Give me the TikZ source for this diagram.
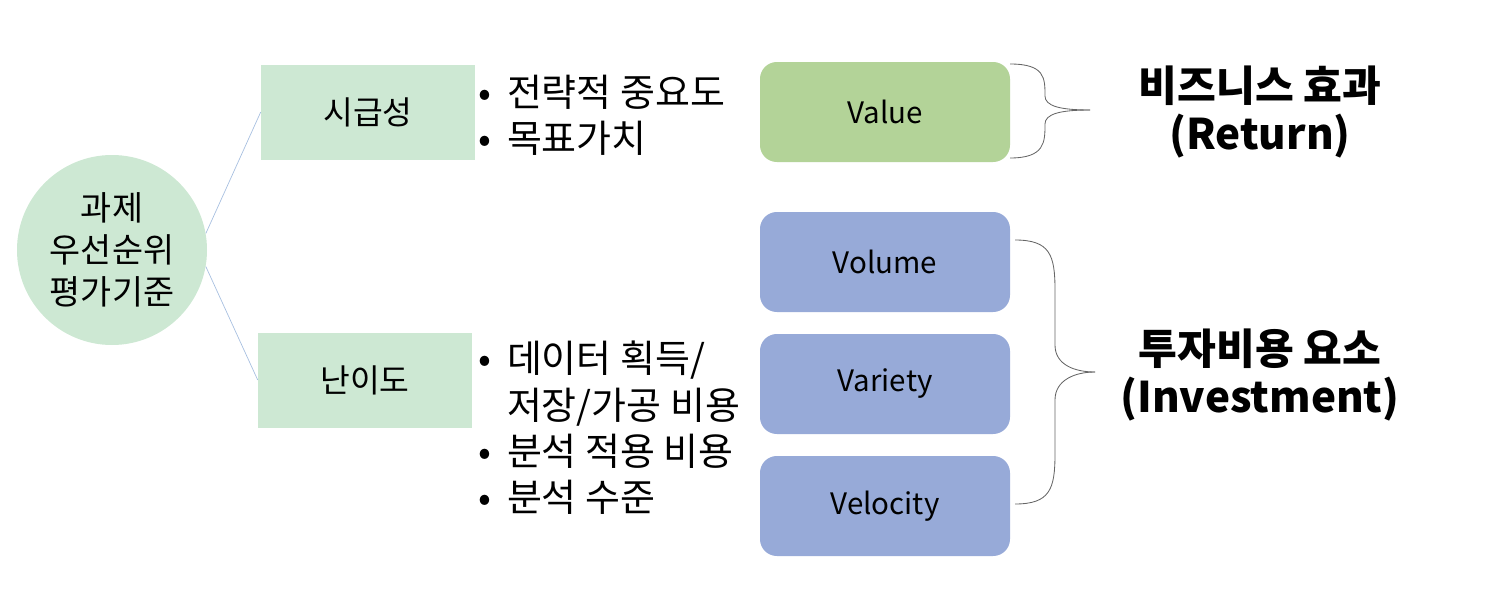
\documentclass[tikz,border=0pt]{standalone}
\usepackage{fontspec}
\setmainfont{Noto Sans CJK KR}
\newcommand{\bul}{•\hspace{0.4em}}
\begin{document}
\begin{tikzpicture}[x=0.025cm,y=-0.025cm,
  gbox/.style={draw=none,fill=lgreen,minimum width=214*0.025cm,minimum height=95*0.025cm,font=\fontsize{23}{26}\selectfont},
  rbox/.style={rounded corners=12pt,minimum width=250*0.025cm,minimum height=100*0.025cm,font=\fontsize{21}{24}\selectfont},
  btxt/.style={anchor=west,align=left,font=\fontsize{27}{33}\selectfont},
  ttl/.style={align=center,font=\bfseries\fontsize{30}{34}\selectfont},
  brc/.style={draw=black!60,line width=0.6pt}]
\definecolor{lgreen}{HTML}{CDE8D3}
\definecolor{vgreen}{HTML}{B3D398}
\definecolor{vblue}{HTML}{97AAD8}
\definecolor{lnblue}{HTML}{A8C0E0}
\useasboundingbox (0,0) rectangle (1500,612);
\node[circle,fill=lgreen,minimum size=190*0.025cm,align=center,font=\fontsize{24}{30}\selectfont] (c) at (112,250) {과제\\우선순위\\평가기준};
\node[gbox] (a) at (368,112) {시급성};
\node[gbox] (b) at (365,380) {난이도};
\draw[lnblue,line width=0.5pt] (c.10) -- (a.west);
\draw[lnblue,line width=0.5pt] (c.-10) -- (b.west);
\node[btxt] (t1) at (474,115) {\bul 전략적 중요도\\\bul 목표가치};
\node[btxt] (t2) at (474,428) {\bul 데이터 획득/\\\phantom{\bul}저장/가공 비용\\\bul 분석 적용 비용\\\bul 분석 수준};
\node[rbox,fill=vgreen] (v1) at (885,112) {Value};
\node[rbox,fill=vblue] (v2) at (885,262) {Volume};
\node[rbox,fill=vblue] (v3) at (885,384) {Variety};
\node[rbox,fill=vblue] (v4) at (885,506) {Velocity};
\coordinate (p1) at (1010,64);
\coordinate (p2) at (1010,158);
\coordinate (q1) at (1015,240);
\coordinate (q2) at (1015,504);
\coordinate (tp1) at (1090,110);
\coordinate (tp2) at (1095,372);
\draw[brc] (p1) .. controls (1045,64) and (1045,78) .. (1045,96) .. controls (1045,106) and (1060,110) .. (tp1);
\draw[brc] (p2) .. controls (1045,158) and (1045,142) .. (1045,124) .. controls (1045,114) and (1060,110) .. (tp1);
\draw[brc] (q1) .. controls (1050,240) and (1055,255) .. (1055,290) -- (1055,345) .. controls (1055,365) and (1075,372) .. (tp2);
\draw[brc] (q2) .. controls (1050,504) and (1055,489) .. (1055,454) -- (1055,400) .. controls (1055,380) and (1075,372) .. (tp2);
\node[ttl] (r) at (1260,112) {비즈니스 효과\\(Return)};
\node[ttl] (i) at (1260,375) {투자비용 요소\\(Investment)};
\end{tikzpicture}
\end{document}
